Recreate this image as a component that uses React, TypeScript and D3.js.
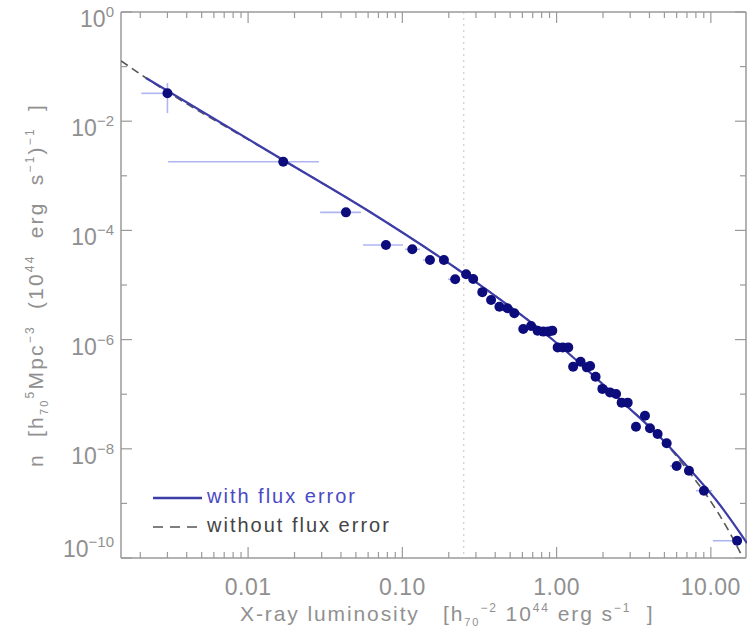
import React from "react";
import * as d3 from "d3";

const W = 747;
const H = 639;

// Data points
const lumL = [0.0030, 0.0169, 0.0431, 0.0783, 0.116, 0.151, 0.186, 0.220, 0.259, 0.288, 0.330, 0.376, 0.426, 0.480, 0.532, 0.608, 0.683, 0.753, 0.820, 0.883, 0.938, 1.016, 1.096, 1.19, 1.28, 1.43, 1.57, 1.65, 1.79, 1.98, 2.22, 2.43, 2.64, 2.89, 3.27, 3.74, 4.03, 4.52, 5.17, 6.0, 7.21, 9.02, 14.8];
const density = [3.24e-2, 1.81e-3, 2.14e-4, 5.4e-5, 4.5e-5, 2.87e-5, 2.87e-5, 1.27e-5, 1.57e-5, 1.29e-5, 7.4e-6, 5.3e-6, 4.0e-6, 3.74e-6, 3.03e-6, 1.56e-6, 1.77e-6, 1.46e-6, 1.40e-6, 1.40e-6, 1.46e-6, 7.2e-7, 7.2e-7, 7.2e-7, 3.19e-7, 3.94e-7, 3.1e-7, 3.28e-7, 2.09e-7, 1.25e-7, 1.08e-7, 1.01e-7, 7.0e-8, 7.0e-8, 2.54e-8, 4.04e-8, 2.37e-8, 1.87e-8, 1.26e-8, 4.84e-9, 3.97e-9, 1.71e-9, 2.07e-10];

// Horizontal (bin) error bars
const xErrIndex = [0, 1, 2, 3, 4, 5, 7, 39, 41, 42];
const xErrLo = [0.00203, 0.00303, 0.0293, 0.0556, 0.104, 0.136, 0.198, 5.43, 8.0, 10.3];
const xErrHi = [0.0032, 0.0288, 0.054, 0.101, 0.130, 0.163, 0.23, 6.31, 10.2, 14.8];

// Vertical error bars
const yErrIndex = [0];
const yErrLo = [0.0141];
const yErrHi = [0.05];

// Model curves
const withErrL = [0.00218, 0.01687, 0.0618, 0.247, 0.948, 2.576, 4.677, 7.656, 11.46, 17.14];
const withErrN = [0.0618, 0.001945, 2.17e-4, 1.66e-5, 9.84e-7, 7.83e-8, 1.64e-8, 3.61e-9, 9.35e-10, 1.88e-10];
const withoutErrL = [0.001503, 0.00218, 0.01687, 0.0618, 0.247, 0.948, 2.576, 4.677, 7.656, 9.16, 13.3, 15.9];
const withoutErrN = [0.1268, 0.0618, 0.001945, 2.17e-4, 1.66e-5, 9.84e-7, 7.83e-8, 1.64e-8, 3.05e-9, 1.55e-9, 2.87e-10, 1.09e-10];

const xLabelValues = [0.01, 0.1, 1, 10];
const xLabelTexts = ["0.01", "0.10", "1.00", "10.00"];
const yDecades = [0, -1, -2, -3, -4, -5, -6, -7, -8, -9, -10];
const refLine = 0.25;

const left = 121, right = 746, top = 12, bottom = 558;
const axisColor = "#9a9a9a";
const textColor = "#909090";
const font = "'Liberation Sans', Arial, sans-serif";

export default function App() {
  const x = d3.scaleLog().domain([0.0015, 16.9]).range([left, right]);
  const y = d3.scaleLog().domain([1e-10, 1]).range([bottom, top]);

  const xTicks = x.ticks().filter((t) => t >= 0.0015 && t <= 16.9);
  const isMajor = (t: number) => Math.abs(Math.log10(t) - Math.round(Math.log10(t))) < 1e-6;

  const line = d3
    .line<[number, number]>()
    .x((d) => x(d[0]))
    .y((d) => y(d[1]))
    .curve(d3.curveMonotoneX);

  const solidPts = withErrL.map((l, i) => [l, withErrN[i]] as [number, number]);
  const dashPts = withoutErrL.map((l, i) => [l, withoutErrN[i]] as [number, number]);

  return (
    <svg width={W} height={H} style={{ position: "absolute", left: 0, top: 0, background: "#fff" }} fontFamily={font}>
      <defs>
        <clipPath id="plotClip">
          <rect x={left} y={top} width={W - left} height={bottom - top} />
        </clipPath>
      </defs>

      {/* reference dotted line */}
      <line x1={x(refLine)} x2={x(refLine)} y1={top} y2={bottom} stroke="#cfcfcf" strokeWidth={1.2} strokeDasharray="2,4" />

      {/* axes frame */}
      <g stroke={axisColor} strokeWidth={1.5} fill="none">
        <line x1={left} x2={right} y1={bottom} y2={bottom} />
        <line x1={left} x2={right} y1={top} y2={top} />
        <line x1={left} x2={left} y1={top} y2={bottom} />
        <line x1={right} x2={right} y1={top} y2={bottom} />
      </g>
      {/* x ticks */}
      <g stroke={axisColor} strokeWidth={1.2}>
        {xTicks.map((t, i) => {
          const len = isMajor(t) ? 11 : 6;
          return (
            <g key={i}>
              <line x1={x(t)} x2={x(t)} y1={bottom} y2={bottom - len} />
              <line x1={x(t)} x2={x(t)} y1={top} y2={top + len} />
            </g>
          );
        })}
      </g>
      {/* y ticks */}
      <g stroke={axisColor} strokeWidth={1.2}>
        {yDecades.map((e) => {
          const len = e % 2 === 0 ? 11 : 6;
          const yy = y(Math.pow(10, e));
          return (
            <g key={e}>
              <line x1={left} x2={left + len} y1={yy} y2={yy} />
              <line x1={right} x2={right - len} y1={yy} y2={yy} />
            </g>
          );
        })}
      </g>
      {/* x labels */}
      <g fill={textColor} fontSize={23} textAnchor="middle" letterSpacing={0.5}>
        {xLabelValues.map((v, i) => (
          <text key={i} x={x(v)} y={595}>
            {xLabelTexts[i]}
          </text>
        ))}
      </g>
      {/* y labels */}
      <g fill={textColor} fontSize={23} textAnchor="end">
        {yDecades
          .filter((e) => e % 2 === 0)
          .map((e) => (
            <text key={e} x={114} y={Math.min(y(Math.pow(10, e)) + 15, 557)}>
              10
              <tspan fontSize={15} dy={-10}>
                {e === 0 ? "0" : "\u2212" + String(-e)}
              </tspan>
            </text>
          ))}
      </g>

      {/* x axis title */}
      <text x={240} y={621} fill={textColor} fontSize={21} letterSpacing={1.9}>
        X-ray luminosity{"\u00a0\u00a0\u00a0"}[h
        <tspan fontSize={11} dy={5}>70</tspan>
        <tspan fontSize={12} dy={-14}>{"\u22122"}</tspan>
        <tspan dy={9}>{"\u00a010"}</tspan>
        <tspan fontSize={12} dy={-9}>44</tspan>
        <tspan dy={9}>{"\u00a0erg\u00a0s"}</tspan>
        <tspan fontSize={12} dy={-9}>{"\u22121"}</tspan>
        <tspan dy={9}>{"\u00a0\u00a0]"}</tspan>
      </text>

      {/* y axis title */}
      <text transform={`translate(43, ${285}) rotate(-90)`} fill={textColor} fontSize={21} letterSpacing={2.2} textAnchor="middle">
        n{"\u00a0\u00a0"}[h
        <tspan fontSize={11} dy={5}>70</tspan>
        <tspan fontSize={12} dy={-14}>5</tspan>
        <tspan dy={9}>Mpc</tspan>
        <tspan fontSize={12} dy={-9}>{"\u22123"}</tspan>
        <tspan dy={9}>{"\u00a0\u00a0(10"}</tspan>
        <tspan fontSize={12} dy={-9}>44</tspan>
        <tspan dy={9}>{"\u00a0\u00a0erg\u00a0\u00a0s"}</tspan>
        <tspan fontSize={12} dy={-9}>{"\u22121"}</tspan>
        <tspan dy={9}>)</tspan>
        <tspan fontSize={12} dy={-9}>{"\u22121"}</tspan>
        <tspan dy={9}>{"\u00a0\u00a0]"}</tspan>
      </text>

      <g clipPath="url(#plotClip)">
        {/* error bars */}
        <g stroke="#aeb6f2" strokeWidth={1.6}>
          {xErrIndex.map((idx, i) => (
            <line key={"xe" + i} x1={x(xErrLo[i])} x2={x(xErrHi[i])} y1={y(density[idx])} y2={y(density[idx])} />
          ))}
          {yErrIndex.map((idx, i) => (
            <line key={"ye" + i} x1={x(lumL[idx])} x2={x(lumL[idx])} y1={y(yErrLo[i])} y2={y(yErrHi[i])} />
          ))}
        </g>
        {/* curves */}
        <path d={line(dashPts) || ""} fill="none" stroke="#555" strokeWidth={1.6} strokeDasharray="8,5" />
        <path d={line(solidPts) || ""} fill="none" stroke="#3d3da8" strokeWidth={2.2} />
        {/* points */}
        <g fill="#0c0c7c">
          {lumL.map((l, i) => (
            <circle key={i} cx={x(l)} cy={y(density[i])} r={5} />
          ))}
        </g>
      </g>

      {/* legend */}
      <line x1={153} x2={202} y1={498} y2={498} stroke="#3d3da8" strokeWidth={2.5} />
      <text x={207} y={503} fill="#4a4ac4" fontSize={20} letterSpacing={2}>with flux error</text>
      <line x1={153} x2={200} y1={527} y2={527} stroke="#555" strokeWidth={1.6} strokeDasharray="10,7" />
      <text x={207} y={532} fill="#444" fontSize={20} letterSpacing={2}>without flux error</text>
    </svg>
  );
}
